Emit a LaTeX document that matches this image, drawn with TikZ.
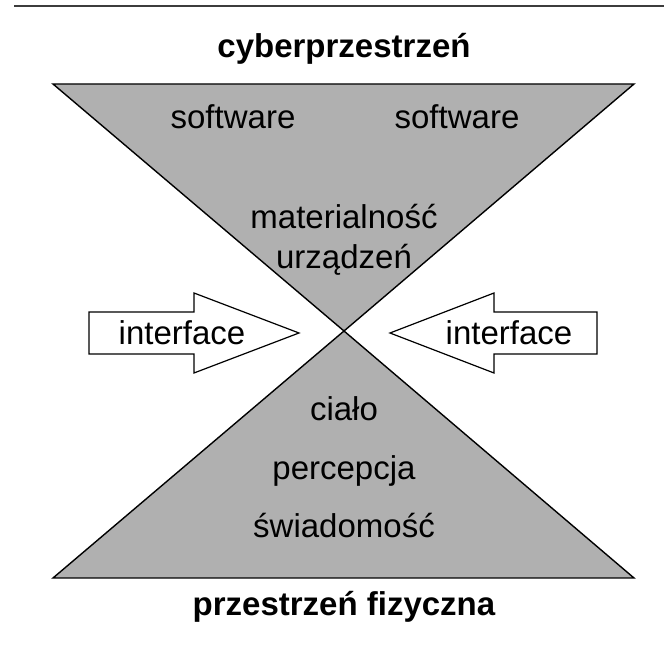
\documentclass[tikz,border=0pt]{standalone}
\usepackage{fontspec}
\setmainfont{Liberation Sans}
\definecolor{conegray}{RGB}{176,176,176}
\definecolor{rulegray}{RGB}{60,60,60}
\begin{document}
\begin{tikzpicture}[x=1pt,y=1pt,
  cone/.style={fill=conegray,draw=black,line width=1.4pt,line join=miter},
  arrowshape/.style={fill=white,draw=black,line width=1.2pt},
  lbl/.style={font=\fontsize{33}{40}\selectfont,anchor=base,inner sep=0pt},
  ttl/.style={font=\fontsize{33}{40}\selectfont\bfseries,anchor=base,inner sep=0pt}]
\useasboundingbox (0,0) rectangle (664,653);
\draw[rulegray,line width=2pt] (14,647) -- (664,647);
% cones
\coordinate (apex) at (344,322);
\filldraw[cone] (53,569) -- (634,569) -- (apex) -- cycle;
\filldraw[cone] (53,75) -- (634,75) -- (apex) -- cycle;
% arrows
\filldraw[arrowshape] (89,341) -- (194,341) -- (194,360) -- (299,320) -- (194,280) -- (194,299) -- (89,299) -- cycle;
\filldraw[arrowshape] (597,341) -- (494,341) -- (494,360) -- (390,320) -- (494,280) -- (494,299) -- (597,299) -- cycle;
% texts
\node[ttl] (t1) at (344,595) {cyberprzestrzeń};
\node[lbl] (s1) at (233,524) {software};
\node[lbl] (s2) at (457,524) {software};
\node[lbl] (m1) at (344,424) {materialność};
\node[lbl] (m2) at (344,384) {urządzeń};
\node[lbl] (i1) at (182,308) {interface};
\node[lbl] (i2) at (509,308) {interface};
\node[lbl] (b1) at (344,232) {ciało};
\node[lbl] (b2) at (344,173) {percepcja};
\node[lbl] (b3) at (344,115) {świadomość};
\node[ttl] (t2) at (344,37) {przestrzeń fizyczna};
\end{tikzpicture}
\end{document}
